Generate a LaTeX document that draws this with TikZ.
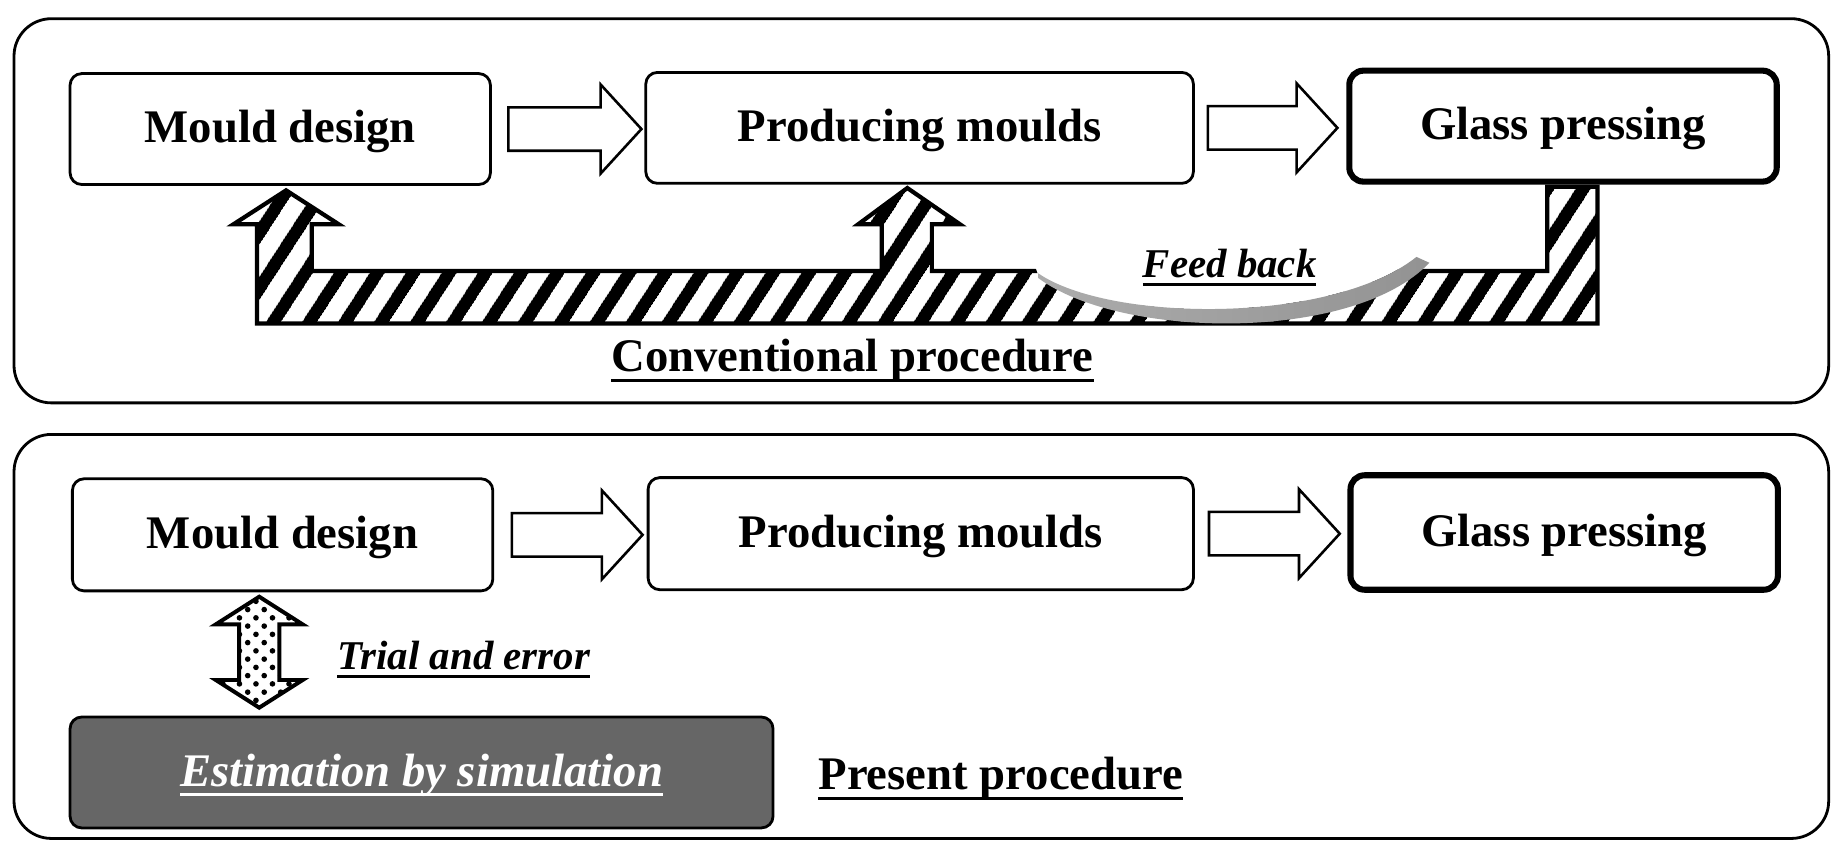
\documentclass[tikz,border=0pt]{standalone}
\usepackage{fontspec}
\setmainfont{Liberation Serif}
\usetikzlibrary{shapes.arrows,patterns.meta}

% underlined label with a heavier rule
\newcommand{\ulabel}[2][black]{\setbox0=\hbox{#2}\rlap{\textcolor{#1}{\rule[-0.22em]{\wd0}{0.075em}}}\box0}

\begin{document}
\begin{tikzpicture}[x=0.5pt, y=-0.5pt,
    panel/.style={draw, line width=1.2pt, rounded corners=16pt},
    box/.style={draw, line width=1.2pt, rounded corners=5pt, inner sep=0pt,
        text height=16pt, text depth=4.4pt,
        font=\fontsize{20}{24}\selectfont\bfseries},
    endbox/.style={box, line width=2.6pt, rounded corners=6pt},
    caption/.style={inner sep=0pt, font=\fontsize{20}{24}\selectfont\bfseries},
    note/.style={inner sep=0pt, font=\fontsize{17.5}{21}\selectfont\bfseries\itshape},
    blockarrow/.style={single arrow, draw, line width=1.1pt, fill=white, anchor=tail,
        inner xsep=0pt, inner ysep=8.75pt, minimum height=#1,
        single arrow head extend=9.75pt, single arrow tip angle=95},
    trialarrow/.style={double arrow, draw, line width=1.7pt, rotate=90,
        pattern={Dots[distance=5pt, radius=1.2pt, angle=45]},
        inner xsep=0pt, inner ysep=7.75pt, minimum height=47.5pt,
        double arrow head extend=10pt, double arrow tip angle=115},
    feedback/.style={draw, line width=1.8pt, line join=miter,
        pattern={Lines[angle=57, distance=13pt, line width=5.5pt]}}]
    \useasboundingbox (0,0) rectangle (1568,720);

    % panels
    \draw[panel] (12,16) rectangle (1566,345);
    \draw[panel] (12,372) rectangle (1566,718);

    % conventional procedure
    \node[box, minimum width=180pt, minimum height=47.5pt] (md1) at (240,110.5) {Mould design};
    \node[box, minimum width=234.5pt, minimum height=47.5pt] (pm1) at (787.5,109.5) {Producing moulds};
    \node[endbox, minimum width=183pt, minimum height=47.5pt] (gp1) at (1338.5,108) {Glass pressing};
    \node[blockarrow=57pt] (a1) at ([xshift=6.5pt]md1.east) {};
    \node[blockarrow=55.5pt] (a2) at ([xshift=5pt]pm1.east) {};

    % hatched feed back path
    \draw[feedback] (220,277) -- (220,192) -- (200,192) -- (245,163) -- (290,192)
        -- (267,192) -- (267,232) -- (755,232) -- (755,192) -- (735,192) -- (777,161)
        -- (822,192) -- (798,192) -- (798,232) -- (1325,232) -- (1325,160)
        -- (1368,160) -- (1368,277) -- cycle;
    \fill[white] (886,227) -- (889,235) .. controls (950,276) and (1140,278) .. (1213,220)
        -- (1216,227) -- cycle;
    \shade[left color=gray!65, right color=gray!85] (889,234)
        .. controls (950,276) and (1140,278) .. (1213,220) -- (1224,225)
        .. controls (1160,293) and (960,291) .. (889,238) -- cycle;
    \node[note] (feed) at (1053,229) {\ulabel{Feed back}};
    \node[caption] (conv) at (730,309) {\ulabel{Conventional procedure}};

    % present procedure
    \node[box, minimum width=180pt, minimum height=48pt] (md2) at (242,458) {Mould design};
    \node[box, minimum width=233.5pt, minimum height=48pt] (pm2) at (788.5,457) {Producing moulds};
    \node[endbox, minimum width=183pt, minimum height=49pt] (gp2) at (1339.5,456) {Glass pressing};
    \node[blockarrow=56pt] (a3) at ([xshift=7pt]md2.east) {};
    \node[blockarrow=56pt] (a4) at ([xshift=5.5pt]pm2.east) {};
    \node[box, fill=black!60, text=white, font=\fontsize{20}{24}\selectfont\bfseries\itshape,
        minimum width=301pt, minimum height=47.5pt] (est) at (361,661.5) {\ulabel[white]{Estimation by simulation}};
    \node[trialarrow] (te) at (222,558.5) {};
    \node[note] (trial) at (397,565) {\ulabel{Trial and error}};
    \node[caption] (present) at (857,667) {\ulabel{Present procedure}};
\end{tikzpicture}
\end{document}
